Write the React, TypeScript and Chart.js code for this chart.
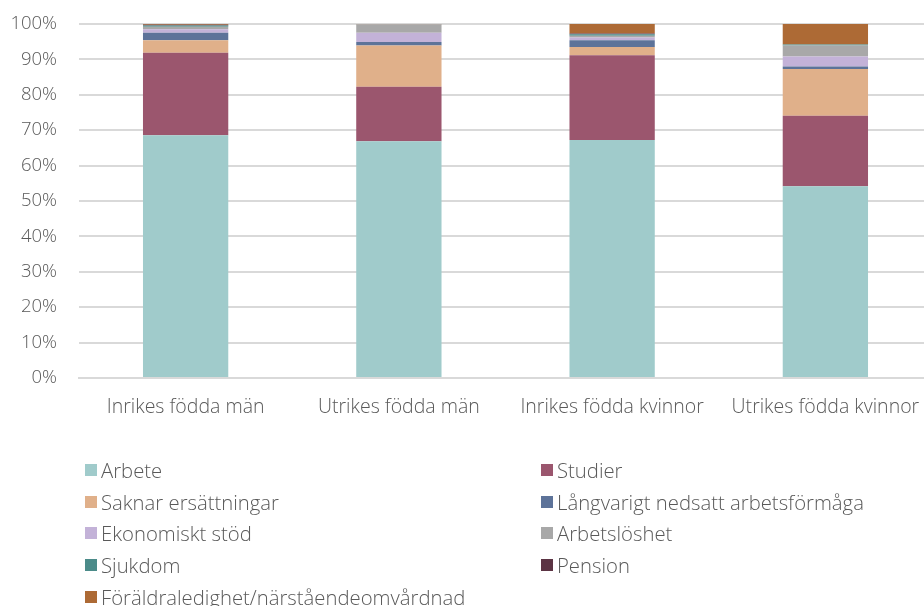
import React, { useEffect, useRef } from "react";
import { Chart, registerables } from "chart.js";

Chart.register(...registerables);

const categories = ["Inrikes födda män", "Utrikes födda män", "Inrikes födda kvinnor", "Utrikes födda kvinnor"];

const arbete = [68.6, 66.9, 67.2, 54.2];
const studier = [23.3, 15.4, 24.0, 19.9];
const saknarErsattningar = [3.5, 11.6, 2.3, 13.2];
const langvarigt = [2.1, 1.0, 1.9, 0.7];
const ekonomisktStod = [1.0, 2.6, 0.8, 2.8];
const arbetsloshet = [0.7, 2.4, 0.5, 3.1];
const sjukdom = [0.4, 0.0, 0.4, 0.3];
const pension = [0.2, 0.0, 0.2, 0.0];
const foraldraledighet = [0.2, 0.1, 2.7, 5.8];

const seriesNames = [
  "Arbete",
  "Studier",
  "Saknar ersättningar",
  "Långvarigt nedsatt arbetsförmåga",
  "Ekonomiskt stöd",
  "Arbetslöshet",
  "Sjukdom",
  "Pension",
  "Föräldraledighet/närståendeomvårdnad",
];
const seriesValues = [
  arbete,
  studier,
  saknarErsattningar,
  langvarigt,
  ekonomisktStod,
  arbetsloshet,
  sjukdom,
  pension,
  foraldraledighet,
];
const seriesColors = [
  "#A0CBCB",
  "#9B566E",
  "#E0B08A",
  "#5D7399",
  "#C3B2D8",
  "#A8A8A8",
  "#4B8B89",
  "#5C3444",
  "#AD6A35",
];

const FONT = "'Open Sans', Lato, sans-serif";
const TEXT = "#595959";

export default function App() {
  const ref = useRef<HTMLCanvasElement | null>(null);

  useEffect(() => {
    if (!ref.current) return;
    const chart = new Chart(ref.current, {
      type: "bar",
      data: {
        labels: categories,
        datasets: seriesNames.map((name, i) => ({
          label: name,
          data: seriesValues[i],
          backgroundColor: seriesColors[i],
          borderWidth: 0,
          barPercentage: 0.8,
          categoryPercentage: 0.5,
        })),
      },
      options: {
        responsive: false,
        animation: false,
        devicePixelRatio: 1,
        layout: { padding: { top: 24, right: 8, bottom: 178, left: 0 } },
        plugins: {
          legend: { display: false },
          tooltip: { enabled: false },
        },
        scales: {
          x: {
            stacked: true,
            grid: { display: false, drawTicks: false },
            border: { display: true, color: "#D9D9D9", width: 2 },
            ticks: {
              color: TEXT,
              padding: 18,
              font: { family: FONT, size: 19.5, weight: 300 },
              maxRotation: 0,
              autoSkip: false,
            },
            afterFit: (s: any) => {
              s.height = 50;
              s.paddingLeft = 0;
              s.paddingRight = 0;
            },
          },
          y: {
            stacked: true,
            min: 0,
            max: 100,
            grid: { color: "#D9D9D9", lineWidth: 2, drawTicks: false },
            border: { display: false },
            ticks: {
              stepSize: 10,
              color: TEXT,
              padding: 22,
              font: { family: FONT, size: 18.5, weight: 300 },
              callback: (v: any) => v + "%",
            },
            afterFit: (s: any) => {
              s.width = 79;
              s.paddingTop = 0;
              s.paddingBottom = 0;
            },
          },
        },
      },
    });
    return () => chart.destroy();
  }, []);

  return (
    <div style={{ position: "absolute", left: 0, top: 0, width: 924, height: 606, overflow: "hidden", background: "#fff" }}>
      <canvas ref={ref} width={940} height={606} style={{ position: "absolute", left: 0, top: 0 }} />
      {seriesNames.map((name, i) => {
        const col = i % 2;
        const row = Math.floor(i / 2);
        return (
          <div
            key={name}
            style={{
              position: "absolute",
              left: col === 0 ? 85 : 541,
              top: 470 + row * 31.7 - 12,
              height: 24,
              display: "flex",
              alignItems: "center",
              fontFamily: FONT,
              fontWeight: 300,
              fontSize: 20.3,
              color: TEXT,
              whiteSpace: "nowrap",
            }}
          >
            <span style={{ display: "inline-block", width: 12, height: 12, background: seriesColors[i], marginRight: 4 }} />
            <span>{name}</span>
          </div>
        );
      })}
    </div>
  );
}
